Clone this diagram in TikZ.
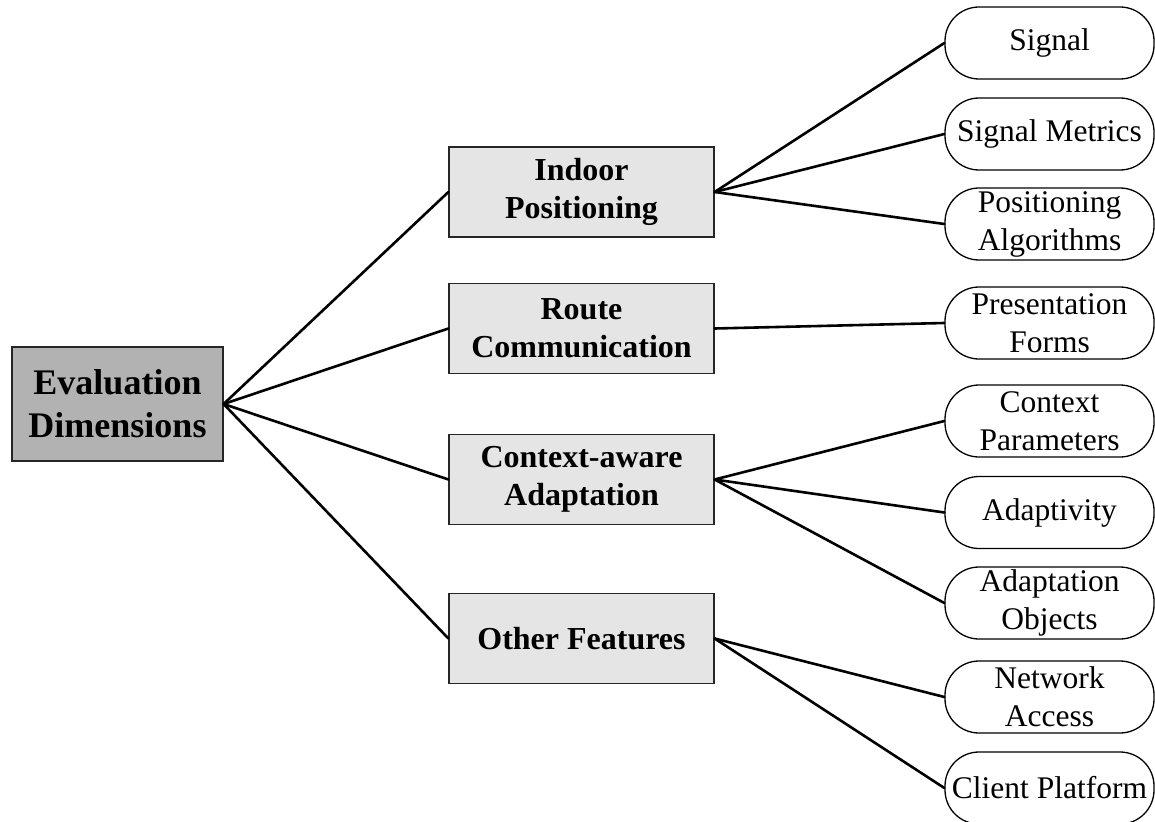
\documentclass[tikz,border=0pt]{standalone}
\usepackage{fontspec}
\setmainfont{Liberation Serif}
\begin{document}
\begin{tikzpicture}[x=1pt,y=-1pt,
  rootbox/.style={draw=black!85, line width=1.2pt, fill=black!30, minimum width=211pt, minimum height=114pt, inner sep=0pt, align=center, font=\bfseries\fontsize{36}{43}\selectfont},
  midbox/.style={draw=black!85, line width=1.2pt, fill=black!10, minimum width=265pt, minimum height=90pt, inner sep=0pt, align=center, font=\bfseries\fontsize{32}{38}\selectfont},
  leafbox/.style={draw, line width=1.3pt, rounded corners=34pt, fill=white, minimum width=209pt, minimum height=72pt, inner sep=0pt, align=center, font=\fontsize{31.5}{38}\selectfont},
  conn/.style={line width=2.6pt, line cap=round}]
\useasboundingbox (0,0) rectangle (1155,821);
% root
\node[rootbox] (root) at (117.5,404) {Evaluation\\Dimensions};
% middle
\node[midbox] (indoor) at (581.5,192) {Indoor\\Positioning};
\node[midbox] (route) at (581.5,328.5) {Route\\Communication};
\node[midbox] (context) at (581.5,479.5) {Context-aware\\Adaptation};
\node[midbox] (other) at (581.5,638.5) {Other Features};
% leaves
\node[leafbox] (signal) at (1049.5,43) {Signal};
\node[leafbox] (metrics) at (1049.5,134) {Signal Metrics};
\node[leafbox] (algos) at (1049.5,224) {Positioning\\Algorithms};
\node[leafbox] (forms) at (1049.5,323) {Presentation\\Forms};
\node[leafbox] (params) at (1049.5,421) {Context\\Parameters};
\node[leafbox] (adapt) at (1049.5,512.5) {Adaptivity};
\node[leafbox] (objects) at (1049.5,603) {Adaptation\\Objects};
\node[leafbox] (network) at (1049.5,697) {Network\\Access};
\node[leafbox] (client) at (1049.5,788) {Client Platform};
% connectors
\foreach \m in {indoor,route,context,other}
  \draw[conn] (root.east) -- (\m.west);
\foreach \l in {signal,metrics,algos}
  \draw[conn] (indoor.east) -- (\l.west);
\draw[conn] (route.east) -- (forms.west);
\foreach \l in {params,adapt,objects}
  \draw[conn] (context.east) -- (\l.west);
\foreach \l in {network,client}
  \draw[conn] (other.east) -- (\l.west);
\end{tikzpicture}
\end{document}
